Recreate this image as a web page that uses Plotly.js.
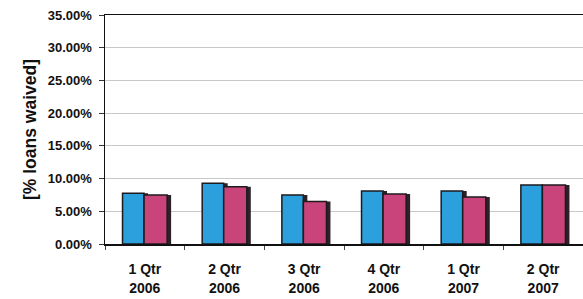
<!DOCTYPE html>
<html>
<head>
<meta charset="utf-8">
<script src="https://cdn.plot.ly/plotly-3.0.1.min.js"></script>
<style>html,body{margin:0;padding:0;background:#fff;}#chart{width:583px;height:299px;}</style>
</head>
<body>
<div id="chart"></div>
<script>
var categories = ["1 Qtr<br>2006", "2 Qtr<br>2006", "3 Qtr<br>2006", "4 Qtr<br>2006", "1 Qtr<br>2007", "2 Qtr<br>2007"];
var seriesBlue = [7.75, 9.3, 7.5, 8.1, 8.1, 9.0];
var seriesPink = [7.5, 8.75, 6.5, 7.65, 7.2, 9.0];
var yTickVals = [0, 5, 10, 15, 20, 25, 30, 35];
var yTickText = ["0.00%", "5.00%", "10.00%", "15.00%", "20.00%", "25.00%", "30.00%", "35.00%"];

var font = {family: "Liberation Sans, Arial, sans-serif", color: "#111"};

var traces = [
  {type:"bar", x:categories, y:seriesBlue, offset:-0.23, width:0.27,
   marker:{color:"#2d2128", line:{width:0}}, hoverinfo:"skip", showlegend:false},
  {type:"bar", x:categories, y:seriesBlue, offset:-0.28, width:0.27,
   marker:{color:"#2ba0dc", line:{color:"#1e1a1e", width:1.5}}, name:"A", showlegend:false},
  {type:"bar", x:categories, y:seriesPink, offset:0.04, width:0.29,
   marker:{color:"#2d2128", line:{width:0}}, hoverinfo:"skip", showlegend:false},
  {type:"bar", x:categories, y:seriesPink, offset:-0.01, width:0.29,
   marker:{color:"#c8447a", line:{color:"#1e1a1e", width:1.5}}, name:"B", showlegend:false}
];

var layout = {
  width:583, height:299,
  margin:{l:105, r:0, t:15, b:55},
  paper_bgcolor:"#fff", plot_bgcolor:"#fff",
  barmode:"overlay",
  showlegend:false,
  xaxis:{
    type:"category",
    showline:true, linecolor:"#111", linewidth:1.5, mirror:true,
    ticks:"outside", tickson:"boundaries", ticklen:4, tickcolor:"#444",
    showgrid:false,
    tickfont:Object.assign({size:14, weight:"bold"}, font),
    ticklabelstandoff:12
  },
  yaxis:{
    range:[0,35], tickvals:yTickVals, ticktext:yTickText,
    showline:true, linecolor:"#111", linewidth:1.5,
    ticks:"outside", ticklen:5, tickcolor:"#333",
    showgrid:true, gridcolor:"#c8c8c8", gridwidth:1,
    zeroline:false,
    tickfont:Object.assign({size:13, weight:"bold"}, font),
    ticklabelstandoff:4,
    title:{text:"[% loans waived]", font:Object.assign({size:17.5, weight:"bold"}, font), standoff:6}
  }
};

Plotly.newPlot("chart", traces, layout, {displayModeBar:false, staticPlot:true});
</script>
</body>
</html>
